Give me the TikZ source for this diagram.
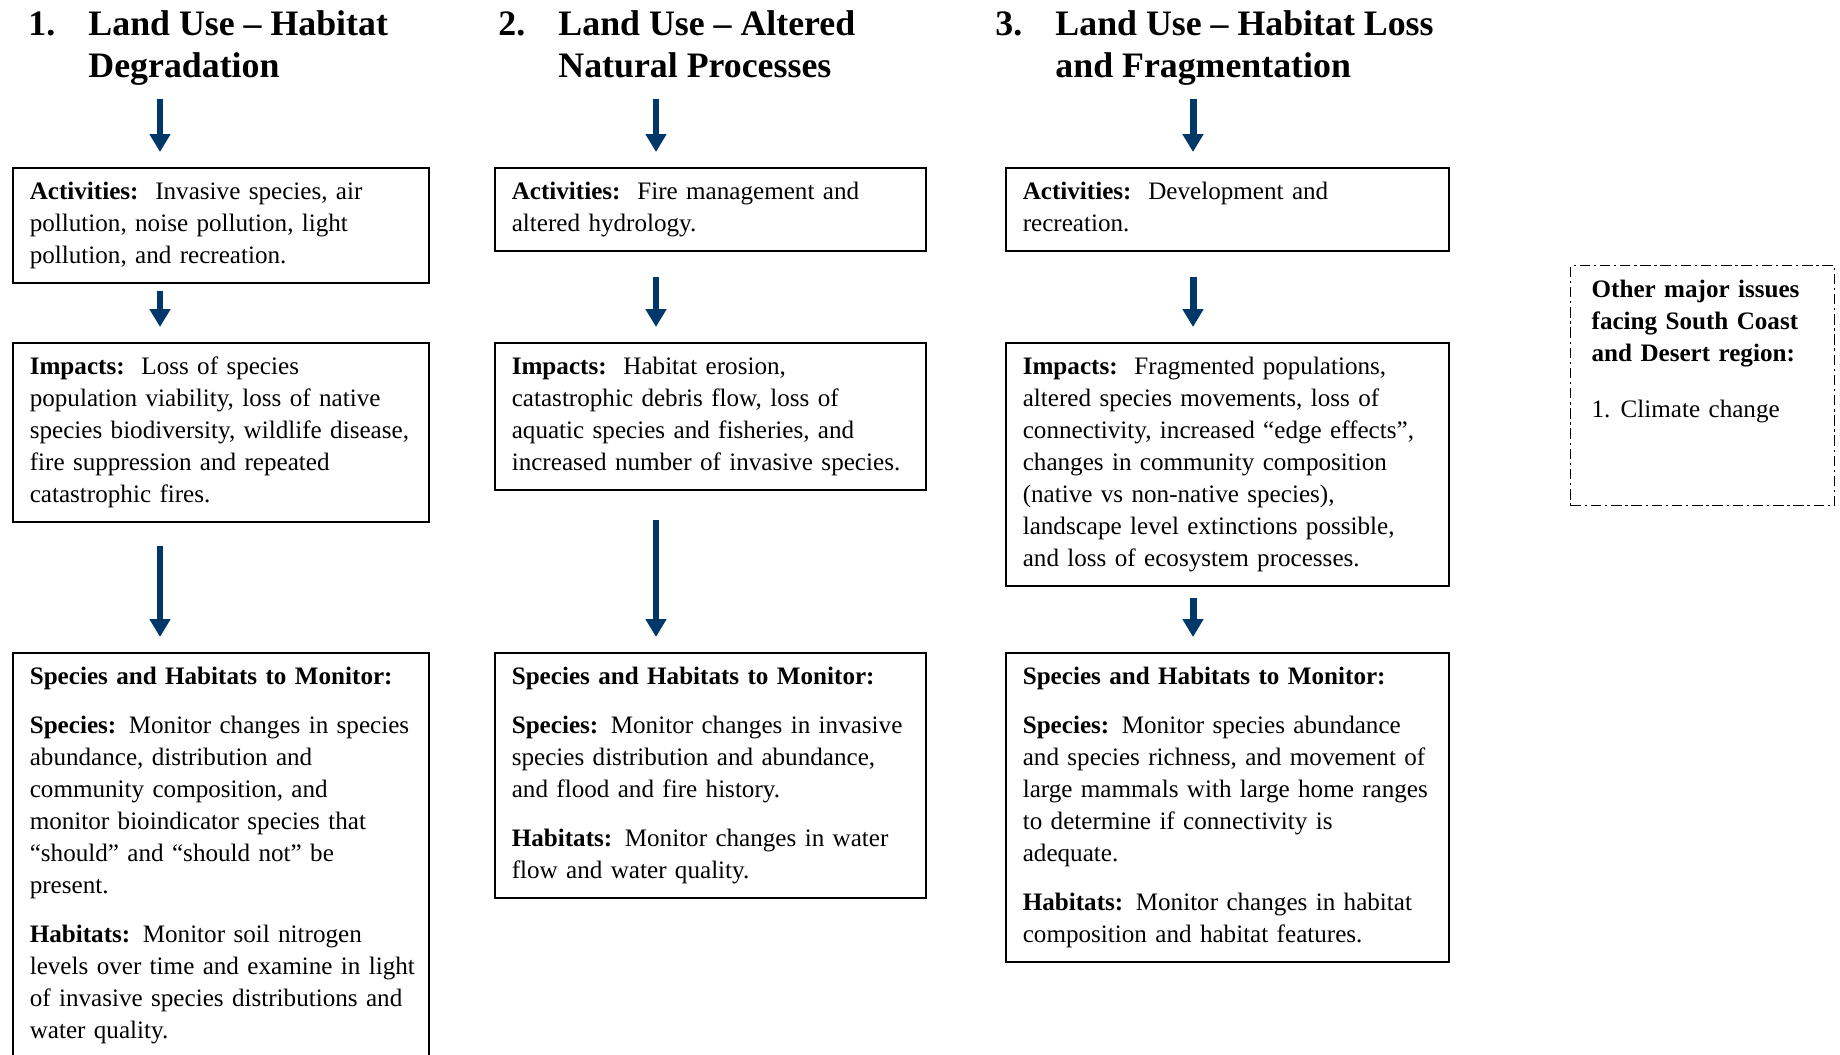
\documentclass[tikz,border=0pt]{standalone}
\usepackage{fontspec}
\setmainfont{Liberation Serif}
\usetikzlibrary{arrows.meta}
\definecolor{arrowblue}{RGB}{0,56,106}

\begin{document}
\begin{tikzpicture}[x=0.43pt,y=-0.43pt]
        \tikzstyle{every node} = [inner sep=0pt]
        \tikzstyle{head} = [anchor=north west, align=left, font=\fontsize{15.4}{18.06}\selectfont\bfseries]
        \tikzstyle{box} = [draw, line width=0.7pt, anchor=north west, align=left, inner xsep=7.3pt, inner ysep=4.1pt,
            font=\fontsize{10.8}{13.76}\selectfont, execute at begin node=\noindent\strut, execute at end node=\strut]
        \tikzstyle{flow} = [arrowblue, line width=3pt, -{Triangle[width=8.6pt,length=7.7pt]}, shorten >=6.45pt]
        \useasboundingbox (0,0) rectangle (1840,1054);
        \clip (0,0) rectangle (1840,1054);

        \node[head] (h1) at (28,10) {\makebox[25.8pt][l]{1.}Land Use -- Habitat\\\hspace*{25.8pt}Degradation};
        \node[head] (h2) at (498,10) {\makebox[25.8pt][l]{2.}Land Use -- Altered\\\hspace*{25.8pt}Natural Processes};
        \node[head] (h3) at (995,10) {\makebox[25.8pt][l]{3.}Land Use -- Habitat Loss\\\hspace*{25.8pt}and Fragmentation};

        \node[box, text width=164.3pt] (act1) at (12,167) {\textbf{Activities:}\ \ Invasive species, air\\
            pollution, noise pollution, light\\ pollution, and recreation.};
        \node[box, text width=164.3pt] (imp1) at (12,342) {\textbf{Impacts:}\ \ Loss of species\\
            population viability, loss of native\\ species biodiversity, wildlife disease,\\
            fire suppression and repeated\\ catastrophic fires.};
        \node[box, text width=164.3pt] (mon1) at (12,652) {\textbf{Species and Habitats to Monitor:}\\[7.3pt]
            \textbf{Species:} Monitor changes in species\\ abundance, distribution and\\
            community composition, and\\ monitor bioindicator species that\\
            “should” and “should not” be\\ present.\\[7.3pt]
            \textbf{Habitats:} Monitor soil nitrogen\\ \mbox{levels over time and examine in light}\\
            of invasive species distributions and\\ water quality.};

        \node[box, text width=170.7pt] (act2) at (494,167) {\textbf{Activities:}\ \ Fire management and\\
            altered hydrology.};
        \node[box, text width=170.7pt] (imp2) at (494,342) {\textbf{Impacts:}\ \ Habitat erosion,\\
            catastrophic debris flow, loss of\\ aquatic species and fisheries, and\\
            increased number of invasive species.};
        \node[box, text width=170.7pt] (mon2) at (494,652) {\textbf{Species and Habitats to Monitor:}\\[7.3pt]
            \textbf{Species:} Monitor changes in invasive\\ species distribution and abundance,\\
            and flood and fire history.\\[7.3pt]
            \textbf{Habitats:} Monitor changes in water\\ flow and water quality.};

        \node[box, text width=175.9pt] (act3) at (1005,167) {\textbf{Activities:}\ \ Development and\\
            recreation.};
        \node[box, text width=175.9pt] (imp3) at (1005,342) {\textbf{Impacts:}\ \ Fragmented populations,\\
            altered species movements, loss of\\ connectivity, increased “edge effects”,\\
            changes in community composition\\ (native vs non-native species),\\
            landscape level extinctions possible,\\ and loss of ecosystem processes.};
        \node[box, text width=175.9pt] (mon3) at (1005,652) {\textbf{Species and Habitats to Monitor:}\\[7.3pt]
            \textbf{Species:} Monitor species abundance\\ and species richness, and movement of\\
            large mammals with large home ranges\\ to determine if connectivity is\\
            adequate.\\[7.3pt]
            \textbf{Habitats:} Monitor changes in habitat\\ composition and habitat features.};

        \node[box, text width=95.5pt, inner xsep=9pt, line width=0.6pt, dash pattern=on 4.5pt off 1.6pt on 1pt off 1.6pt]
            (other) at (1570,265) {\textbf{Other major issues}\\ \textbf{facing South Coast}\\
            \textbf{and Desert region:}\\[10.3pt] \makebox[12.5pt][l]{1.}Climate change\\[15.9pt]\mbox{}};

        \coordinate (s1) at (160,99);
        \coordinate (s2) at (656,99);
        \coordinate (s3) at (1193,99);

        \foreach \c in {1,2,3}
            \draw[flow] (s\c) -- (act\c.north -| s\c);
        \foreach \from/\to/\c/\gap in {act1/imp1/1/3pt, imp1/mon1/1/9.9pt, act2/imp2/2/10.75pt,
                imp2/mon2/2/12.5pt, act3/imp3/3/10.75pt, imp3/mon3/3/4.7pt}
            \draw[flow, shorten <=\gap] (\from.south -| s\c) -- (\to.north -| s\c);
\end{tikzpicture}
\end{document}
